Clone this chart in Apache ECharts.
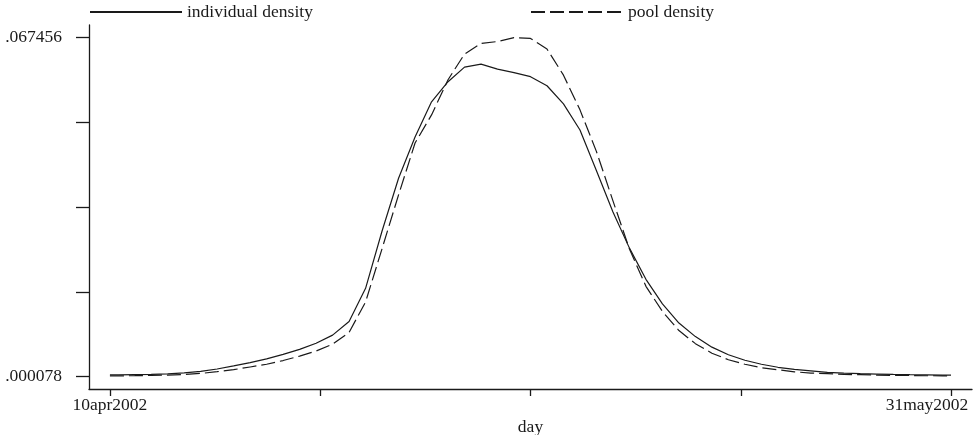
<!DOCTYPE html>
<html>
<head>
<meta charset="utf-8">
<script src="https://cdn.jsdelivr.net/npm/echarts@6/dist/echarts.min.js"></script>
<style>
  html, body { margin: 0; padding: 0; background: #fff; }
  #chart { width: 977px; height: 435px; }
</style>
</head>
<body>
<div id="chart"></div>
<script>
// days after 10apr2002 where the densities were evaluated
const days = [0, 0.5, 1.5, 2.5, 3.5, 4.5, 5.5, 6.5, 7.5, 8.5, 9.5,
  10.5, 11.5, 12.5, 13.5, 14.5, 15.5, 16.5, 17.5, 18.5, 19.5,
  20.5, 21.5, 22.5, 23.5, 24.5, 25.5, 26.5, 27.5, 28.5, 29.5,
  30.5, 31.5, 32.5, 33.5, 34.5, 35.5, 36.5, 37.5, 38.5, 39.5,
  40.5, 41.5, 42.5, 43.5, 44.5, 45.5, 46.5, 47.5, 48.5, 49.5, 50.5, 51];

const individualDensity = [0.00038, 0.0004, 0.00045, 0.0005, 0.0006, 0.00078, 0.0011, 0.00156, 0.00217, 0.00284, 0.00358,
  0.00446, 0.00547, 0.00668, 0.0083, 0.0110, 0.0176, 0.0290, 0.0395, 0.0477, 0.0547,
  0.0587, 0.0616, 0.0622, 0.0612, 0.0605, 0.0597, 0.0579, 0.0543, 0.0491, 0.0410,
  0.0328, 0.0256, 0.0194, 0.0145, 0.0107, 0.0080, 0.0059, 0.0044, 0.0033, 0.0025,
  0.0019, 0.0015, 0.0012, 0.0009, 0.00075, 0.00062, 0.00055, 0.00048, 0.00042, 0.00038, 0.00035, 0.00032];

const poolDensity = [0.00018, 0.0002, 0.00023, 0.00028, 0.00035, 0.00048, 0.00068, 0.00102, 0.00143, 0.00196, 0.0025,
  0.00324, 0.00412, 0.00513, 0.00648, 0.00884, 0.0149, 0.0255, 0.0362, 0.0465, 0.0521,
  0.0591, 0.0642, 0.0663, 0.0667, 0.067456, 0.0673, 0.0652, 0.0600, 0.0531, 0.0448,
  0.0350, 0.0254, 0.0180, 0.0130, 0.0092, 0.0066, 0.0047, 0.0034, 0.0025, 0.0018,
  0.0014, 0.0010, 0.00075, 0.00062, 0.00048, 0.00042, 0.00035, 0.00028, 0.00026, 0.00022, 0.0002, 0.0002];

const xTickDays = [0, 12.75, 25.5, 38.25, 51];
const xLabelDays = [0, 51];
const xTickLabels = ['10apr2002', '31may2002'];

const yTickValues = [0.000078, 0.0169225, 0.033767, 0.0506115, 0.067456];
const yLabelValues = [0.000078, 0.067456];
const yTickLabels = ['.000078', '.067456'];

const serif = 'Liberation Serif, Times New Roman, serif';
const ink = '#1a1a1a';

let chart = echarts.init(document.getElementById('chart'));

let legendBase = {
    top: 3, itemWidth: 92, itemHeight: 14, padding: 0,
    itemStyle: { opacity: 0 },
    textStyle: { fontFamily: serif, fontSize: 17.5, color: ink }
};

let option = {
    animation: false,
    backgroundColor: '#fff',
    textStyle: { fontFamily: serif, color: ink },
    grid: { left: 89, right: 5, top: 25, bottom: 46, outerBoundsMode: 'none', containLabel: false },
    legend: [
        Object.assign({ data: ['individual density'], left: 89 }, legendBase),
        Object.assign({ data: ['pool density'], left: 530 }, legendBase)
    ],
    xAxis: {
        type: 'value',
        min: -1.27,
        max: 52.27,
        name: 'day',
        nameLocation: 'middle',
        nameGap: 26,
        nameTextStyle: { fontFamily: serif, fontSize: 17.5, color: ink },
        splitLine: { show: false },
        axisLine: { onZero: false, lineStyle: { color: ink, width: 1.3 } },
        axisTick: { customValues: xTickDays, length: 7, lineStyle: { color: ink, width: 1.3 } },
        axisLabel: {
            customValues: xLabelDays,
            margin: 7,
            hideOverlap: false,
            fontFamily: serif, fontSize: 17.5, color: ink,
            formatter: function(v) {
                let i = xLabelDays.indexOf(v);
                if (i < 0) return '';
                // last label is pulled in to stay inside the page
                return i === xLabelDays.length - 1 ? '{last|' + xTickLabels[i] + '}' : xTickLabels[i];
            },
            rich: {
                last: { fontFamily: serif, fontSize: 17.5, color: ink, padding: [0, 48, 0, 0] }
            }
        }
    },
    yAxis: {
        type: 'value',
        min: -0.00242,
        max: 0.06998,
        splitLine: { show: false },
        axisLine: { show: true, onZero: false, lineStyle: { color: ink, width: 1.3 } },
        axisTick: { show: true, customValues: yTickValues, length: 13, lineStyle: { color: ink, width: 1.3 } },
        axisLabel: {
            customValues: yLabelValues,
            margin: 27,
            fontFamily: serif, fontSize: 17.5, color: ink,
            formatter: function(v) {
                return yTickLabels[yLabelValues.indexOf(v)] || '';
            }
        }
    },
    series: [{
        name: 'individual density',
        type: 'line',
        symbol: 'none',
        color: ink,
        lineStyle: { color: ink, width: 1.2 },
        data: days.map((d, i) => [d, individualDensity[i]])
    }, {
        name: 'pool density',
        type: 'line',
        symbol: 'none',
        color: ink,
        lineStyle: { color: ink, width: 1.2, type: [14, 5] },
        data: days.map((d, i) => [d, poolDensity[i]])
    }]
};

option && chart.setOption(option);
</script>
</body>
</html>
